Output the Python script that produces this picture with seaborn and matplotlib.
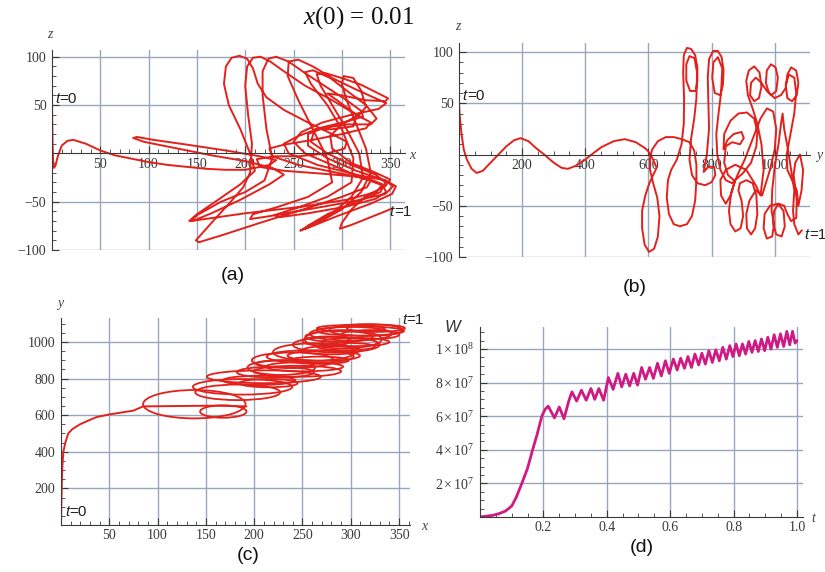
import numpy as np
import matplotlib
matplotlib.use("Agg")
import matplotlib.pyplot as plt
import seaborn as sns
from matplotlib.patches import Ellipse
from matplotlib.ticker import MultipleLocator

# ---------------- data ----------------
# (a) x(t) vs z(t), as (x, z) pairs in order of t
a_pts = [
    (0, 55), (0.2, 35), (0.6, 10), (1.2, -8), (2, -15), (3.5, -13), (6, -3), (10, 8), (16, 13), (22, 14), (35, 10),
    (50, 3), (65, -2), (80, -5), (100, -9), (120, -12), (140, -14), (160, -16), (180, -17), (200, -17),
    (225, -12), (232, -7), (215, -3), (180, 3), (140, 9), (105, 14), (88, 17), (84, 16), (95, 12), (130, 5), (165, -2),
    (200, -8), (228, -15), (240, -22), (225, -32), (195, -48), (165, -62), (148, -69), (142, -70), (150, -63),
    (172, -48), (195, -32), (210, -18), (205, 0),
    (195, 25), (183, 50), (178, 72), (180, 90), (186, 99), (194, 101), (202, 98), (208, 88), (213, 72), (222, 58),
    (240, 45), (265, 32), (290, 20), (305, 12), (303, 5), (285, 0), (255, -3), (230, -3), (212, -6), (215, -14),
    (240, -18), (280, -21), (315, -24), (330, -28), (326, -35), (300, -45), (260, -58), (215, -72), (175, -85),
    (152, -92), (149, -90), (165, -72), (185, -50), (198, -35), (205, -20),
    (207, 10), (203, 40), (200, 70), (202, 90), (208, 99), (216, 100), (226, 95), (240, 85), (262, 70), (290, 55),
    (315, 40), (330, 32), (325, 26), (300, 20), (270, 14), (240, 9), (225, 5), (228, -3), (255, -12), (295, -20),
    (330, -27), (342, -32), (336, -40), (305, -48), (260, -55), (200, -62), (158, -68), (144, -70), (150, -64),
    (175, -50), (200, -40), (220, -28),
    (228, -5), (222, 25), (218, 60), (218, 85), (224, 98), (232, 100), (245, 95), (262, 83), (285, 68), (305, 55),
    (320, 44), (322, 38), (305, 33), (280, 27), (255, 18), (240, 10), (245, 0), (275, -12), (315, -22), (345, -28),
    (353, -34), (345, -42), (310, -50), (265, -58), (225, -65), (205, -68), (208, -63), (235, -55), (265, -45), (290, -30),
    (285, -5), (270, 25), (255, 55), (244, 80), (245, 95), (255, 97), (270, 90), (290, 78), (315, 66), (335, 57),
    (346, 52), (338, 46), (310, 40), (280, 32), (258, 22), (250, 12), (262, 0), (290, -12), (320, -25), (342, -33),
    (346, -40), (335, -47), (305, -55), (265, -62), (236, -66), (230, -64), (255, -56), (285, -45), (310, -30),
    (312, -5), (300, 25), (285, 50), (268, 72), (262, 84), (270, 86), (288, 78), (305, 65), (325, 50), (336, 36),
    (330, 30), (305, 30), (280, 26), (265, 20), (265, 8), (285, -5), (315, -18), (345, -28), (356, -34), (352, -42),
    (330, -52), (295, -65), (265, -77), (257, -80), (265, -75), (290, -62), (310, -45), (322, -25),
    (318, 0), (305, 25), (290, 50), (278, 70), (274, 82), (283, 83), (300, 78), (320, 71), (338, 62), (348, 57),
    (345, 54), (325, 55), (300, 60), (285, 62), (295, 55), (315, 40), (312, 28), (290, 25), (272, 25), (268, 12),
    (285, 0), (310, -12), (335, -22), (345, -30), (340, -40), (315, -50), (285, -63), (265, -75), (262, -78),
    (275, -72), (300, -58), (320, -40), (330, -20),
    (325, 5), (315, 30), (305, 55), (300, 72), (302, 80), (312, 78), (320, 65), (325, 48), (318, 40), (300, 30),
    (288, 18), (290, 5), (310, -10), (335, -20), (350, -27), (345, -34), (325, -44), (310, -58), (300, -72),
    (298, -78), (310, -74), (330, -66), (345, -60), (352, -57),
]
a_x = [p[0] for p in a_pts]
a_z = [p[1] for p in a_pts]

# (b) y(t) vs z(t), as (y, z) pairs in order of t
b_pts = [
    (0, 50), (3, 35), (8, 20), (15, 5), (25, -5), (40, -14), (56, -18), (75, -16), (100, -8), (125, 0), (150, 8),
    (175, 14), (195, 16), (220, 13), (245, 6), (270, 0), (300, -8), (325, -13), (345, -14), (370, -11), (400, -5),
    (420, 0), (450, 7), (490, 13), (525, 15), (560, 12), (590, 6),
    (600, 3), (615, -5), (626, -13), (615, -20), (603, -28), (590, -40), (580, -55), (580, -72), (588, -88),
    (602, -95), (618, -92), (630, -80), (635, -60), (628, -42), (615, -28), (605, -15), (605, -3),
    (612, 5), (630, 13), (655, 17), (680, 17), (705, 15), (730, 12), (745, 4), (752, -10), (752, -25), (748, -45),
    (738, -60), (722, -68), (700, -70), (680, -68), (665, -58), (658, -42), (662, -25), (672, -15), (690, -5),
    (705, 10), (712, 30), (713, 55), (710, 80), (712, 97), (722, 104), (735, 103), (748, 97), (755, 85), (755, 72),
    (750, 62), (732, 62), (720, 72), (720, 88), (730, 96), (746, 94), (754, 80), (752, 55), (745, 35), (735, 15),
    (730, -5), (738, -20), (755, -28), (780, -30), (800, -27), (812, -20), (808, -12), (790, -12), (775, -17),
    (785, 0), (792, 25), (790, 50), (788, 75), (792, 93), (805, 101), (820, 101), (832, 95), (838, 82), (836, 68),
    (828, 58), (810, 60), (802, 75), (806, 90), (820, 95), (834, 84), (830, 60), (822, 40), (815, 20), (818, 0),
    (828, -15), (845, -25), (865, -28),
    (875, -25), (900, -18), (925, -8), (942, 8), (945, 22), (935, 35), (912, 41), (885, 40), (860, 33), (840, 20),
    (838, 5), (850, 14), (870, 20), (895, 22), (902, 16), (890, 10), (865, 12), (845, 8), (840, -8), (852, -20),
    (874, -26),
    (862, -38), (855, -55), (860, -68), (875, -75), (892, -72), (900, -60), (895, -45), (885, -35), (890, -28),
    (910, -25), (930, -28), (942, -40), (945, -58), (938, -72), (925, -78), (912, -72), (910, -58), (920, -45),
    (940, -35), (960, -40),
    (970, -30), (985, -15), (1000, 5), (1005, 25), (995, 42), (975, 45), (955, 35), (930, 15), (905, -5), (885, -18),
    (874, -26), (860, -40), (845, -48), (830, -40), (828, -25), (845, -15), (875, -10), (910, -15), (940, -30),
    (955, -40),
    (965, -15), (958, 10), (945, 30), (930, 45), (915, 58), (910, 72), (918, 82), (935, 86), (952, 80), (958, 66),
    (950, 55), (935, 52), (922, 58), (925, 70), (940, 75), (958, 70), (975, 62), (990, 58), (1005, 62), (1010, 75),
    (1003, 85), (988, 88), (975, 82), (972, 70), (982, 60), (1000, 55), (1020, 58), (1035, 65), (1040, 78),
    (1052, 85), (1068, 82), (1075, 70), (1070, 58), (1055, 52), (1040, 55), (1035, 68), (1045, 78), (1062, 75),
    (1068, 60), (1062, 40), (1050, 20), (1038, 0), (1040, -15), (1055, -25), (1070, -35), (1075, -50),
    (1085, -35), (1090, -15), (1080, 0), (1065, -8), (1060, -20), (1070, -45),
    (1068, -62), (1052, -65), (1040, -58), (1030, -50), (1012, -48), (998, -55), (995, -68), (1005, -78),
    (1022, -80), (1032, -70), (1028, -55), (1010, -48), (985, -50), (968, -58), (965, -72), (975, -82), (992, -80),
    (998, -68), (990, -55), (992, -35), (1000, -12), (1012, 10), (1020, 30), (1025, 40), (1030, 25), (1042, 5),
    (1052, -15), (1062, -35), (1058, -55), (1062, -68), (1075, -78), (1086, -74),
]
b_y = [p[0] for p in b_pts]
b_z = [p[1] for p in b_pts]

# (c) x(t) vs y(t): approach curve, then the loops (centre x, centre y, width, height)
c_x = [0, 0.3, 0.7, 1.2, 2.4, 4.5, 7.5, 12, 19.6, 28, 37, 51, 63, 75, 85, 120, 160, 192]
c_y = [0, 100, 200, 300, 400, 450, 500, 525, 550, 570, 590, 605, 615, 625, 648, 650, 652, 648]
loop_cx = [138, 168, 188, 183, 210, 205, 228, 240, 252, 262, 272, 285, 292, 300, 316, 320, 305, 326, 245, 232,
           280, 310, 222, 268, 295, 258, 288, 215, 300, 275]
loop_cy = [660, 620, 755, 725, 810, 790, 860, 900, 865, 945, 925, 985, 1015, 1045, 1065, 1040, 1000, 1075, 840, 880,
           955, 1060, 835, 900, 975, 920, 1030, 775, 1075, 1005]
loop_w = [106, 48, 103, 88, 118, 75, 70, 85, 80, 85, 75, 90, 80, 85, 76, 60, 70, 60, 90, 60,
          60, 90, 80, 60, 60, 90, 70, 60, 70, 50]
loop_h = [155, 68, 85, 85, 70, 50, 80, 85, 50, 95, 55, 85, 100, 75, 65, 50, 45, 40, 60, 40,
          45, 50, 60, 40, 40, 70, 60, 45, 35, 50]

# (d) W(t), W in units of 1e7
d_t = [0, 0.02, 0.04, 0.06, 0.08, 0.10, 0.115, 0.132, 0.15, 0.166, 0.18, 0.195, 0.205, 0.215,
       0.235, 0.25, 0.265, 0.28, 0.29, 0.305, 0.32, 0.335, 0.35, 0.362, 0.375, 0.39, 0.405, 0.42, 0.435, 0.447,
       0.46, 0.472, 0.485, 0.497, 0.51, 0.522, 0.535, 0.547, 0.56, 0.572, 0.585, 0.597, 0.61, 0.622, 0.633, 0.645,
       0.656, 0.667, 0.678, 0.69, 0.70, 0.711, 0.722, 0.733, 0.744, 0.755, 0.766, 0.777, 0.788, 0.798, 0.808, 0.818,
       0.828, 0.838, 0.848, 0.858, 0.868, 0.878, 0.888, 0.898, 0.908, 0.918, 0.928, 0.938, 0.948, 0.958, 0.968, 0.977,
       0.986, 0.994, 1.0]
d_w = [0, 0.05, 0.1, 0.2, 0.35, 0.65, 1.2, 2.0, 2.9, 4.0, 4.9, 6.0, 6.4, 6.6,
       5.9, 6.55, 5.85, 6.9, 7.45, 6.9, 7.55, 6.95, 7.65, 7.0, 7.65, 6.95, 8.3, 7.6, 8.55, 7.75,
       8.5, 7.8, 8.55, 7.85, 8.9, 8.2, 8.9, 8.25, 9.15, 8.4, 9.3, 8.55, 9.4, 8.75, 9.45, 8.85,
       9.55, 8.9, 9.7, 9.05, 9.75, 9.1, 9.9, 9.2, 9.95, 9.3, 10.1, 9.4, 10.2, 9.55, 10.3, 9.6,
       10.3, 9.7, 10.45, 9.8, 10.5, 9.85, 10.6, 9.9, 10.7, 10.0, 10.85, 10.1, 10.9, 10.15, 11.05, 10.25,
       11.05, 10.35, 10.5]

# ---------------- styling ----------------
sns.set_theme(style="white")
plt.rcParams.update({
    "font.family": ["Liberation Serif", "DejaVu Serif"],
    "mathtext.fontset": "custom",
    "mathtext.rm": "Liberation Serif",
    "mathtext.it": "Liberation Serif:italic",
    "mathtext.bf": "Liberation Serif:bold",
})

RED = "#e3211c"
MAG = "#cf1a84"
GRID = "#95a7b9"
AX = "#3a3a3a"
TXT = "#3a3a3a"
W_, H_ = 825, 572

fig = plt.figure(figsize=(8.25, 5.72), dpi=100)


def px_axes(left, top, right, bottom):
    return fig.add_axes([left / W_, 1 - bottom / H_, (right - left) / W_, (bottom - top) / H_])


def ftext(px, py, s, **kw):
    fig.text(px / W_, 1 - py / H_, s, **kw)


def style(ax, xlim, ylim, xmaj, xmin, ymaj, ymin, ylabels=None):
    ax.set_xlim(*xlim)
    ax.set_ylim(*ylim)
    ax.patch.set_alpha(0)
    for s in ["top", "right"]:
        ax.spines[s].set_visible(False)
    ax.spines["left"].set_position(("data", 0))
    ax.spines["bottom"].set_position(("data", 0))
    for s in ["left", "bottom"]:
        ax.spines[s].set_color(AX)
        ax.spines[s].set_linewidth(0.8)
    ax.set_xticks(xmaj)
    if ylabels is None:
        ax.set_yticks(ymaj)
    else:
        ax.set_yticks(ymaj, labels=ylabels)
    ax.xaxis.set_minor_locator(MultipleLocator(xmin))
    ax.yaxis.set_minor_locator(MultipleLocator(ymin))
    ax.grid(True, which="major", color=GRID, lw=1.0)
    ax.set_axisbelow(True)
    ax.tick_params(which="both", direction="in", bottom=True, left=True, top=False, right=False,
                   colors=AX, labelcolor=TXT, labelsize=10)
    ax.tick_params(which="major", length=5, width=0.8)
    ax.tick_params(which="minor", length=3, width=0.6)
    ax.tick_params(axis="x", pad=3)
    ax.tick_params(axis="y", pad=4)
    ax.set_xlabel("")
    ax.set_ylabel("")


def tlabel(ax, x, y, val):
    ax.text(x, y, "t", style="italic", family="Liberation Sans", size=11, color="#222222",
            va="center", ha="left")
    ax.annotate("=" + val, xy=(x, y), xytext=(3.4, 0), textcoords="offset points",
                family="Liberation Sans", size=11, color="#222222", va="center", ha="left",
                annotation_clip=False)


# ---- (a)
axA = px_axes(52, 50, 405, 250)
sns.lineplot(x=a_x, y=a_z, sort=False, estimator=None, errorbar=None, color=RED, lw=1.4, ax=axA)
style(axA, (0, 365.4), (-100, 107), [50, 100, 150, 200, 250, 300, 350], 10, [-100, -50, 50, 100], 10)
tlabel(axA, 3, 56, "0")
tlabel(axA, 349, -61, "1")

# ---- (b)
axB = px_axes(459, 43, 810, 257)
sns.lineplot(x=b_y, y=b_z, sort=False, estimator=None, errorbar=None, color=RED, lw=1.4, ax=axB)
style(axB, (0, 1111.8), (-100, 108.8), [200, 400, 600, 800, 1000], 50, [-100, -50, 50, 100], 10)
tlabel(axB, 12, 57, "0")
tlabel(axB, 1093, -79, "1")

# ---- (c)
axC = px_axes(61, 318, 410, 525)
sns.lineplot(x=c_x, y=c_y, sort=False, estimator=None, errorbar=None, color=RED, lw=1.4, ax=axC)
for cx, cy, w, h in zip(loop_cx, loop_cy, loop_w, loop_h):
    axC.add_patch(Ellipse((cx, cy), w, h, fill=False, edgecolor=RED, lw=1.3))
style(axC, (0, 361.3), (0, 1131), [50, 100, 150, 200, 250, 300, 350], 10, [200, 400, 600, 800, 1000], 50)
tlabel(axC, 4, 70, "0")
tlabel(axC, 353, 1118, "1")

# ---- (d)
axD = px_axes(480, 327, 803, 517)
sns.lineplot(x=d_t, y=np.array(d_w) * 1e7, sort=False, estimator=None, errorbar=None, color=MAG, lw=2.0, ax=axD)
style(axD, (0, 1.019), (0, 1.131e8), [0.2, 0.4, 0.6, 0.8, 1.0], 0.05,
      [2e7, 4e7, 6e7, 8e7, 1e8], 5e6,
      ylabels=[r"$2\times10^{7}$", r"$4\times10^{7}$", r"$6\times10^{7}$", r"$8\times10^{7}$", r"$1\times10^{8}$"])
axD.set_xticklabels(["0.2", "0.4", "0.6", "0.8", "1.0"])

# ---- axis names, panel labels, title
lab = dict(style="italic", family="Liberation Serif", size=10, color="#444444", ha="center", va="center")
ftext(50, 35, "z", **lab)
ftext(412, 155, "x", **lab)
ftext(458, 27, "z", **lab)
ftext(819, 155, "y", **lab)
ftext(60, 303, "y", **lab)
ftext(424, 526, "x", **lab)
ftext(813, 518, "t", **lab)
ftext(452, 327, "W", style="italic", family="Liberation Sans", size=12, color="#333333", ha="center", va="center")

pl = dict(family="Liberation Sans", size=14, color="#111111", ha="center", va="center")
ftext(233, 276, "(a)", **pl)
ftext(635, 287, "(b)", **pl)
ftext(248, 556, "(c)", **pl)
ftext(642, 548, "(d)", **pl)

ftext(359, 18, r"$x$(0) = 0.01", family="Liberation Serif", size=18, color="#111111", ha="center", va="center")

fig.savefig("out.png", dpi=100)
